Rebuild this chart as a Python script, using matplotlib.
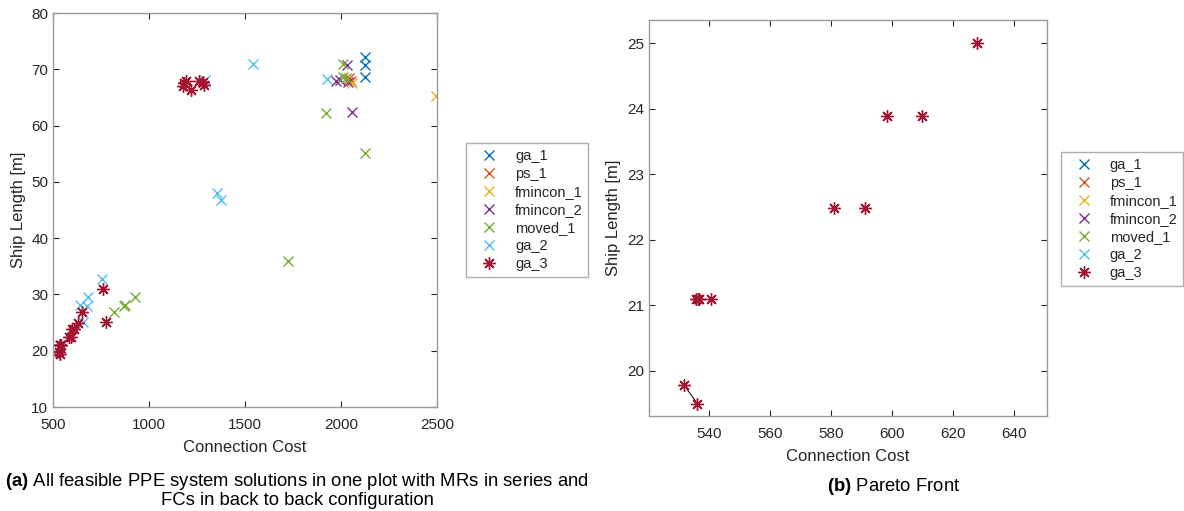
import numpy as np
import matplotlib
matplotlib.use('Agg')
import matplotlib.pyplot as plt

plt.rcParams['font.family'] = ['Liberation Sans', 'DejaVu Sans']
plt.rcParams['mathtext.fontset'] = 'custom'
plt.rcParams['mathtext.rm'] = 'Liberation Sans'
plt.rcParams['mathtext.bf'] = 'Liberation Sans:bold'

# data: (connection cost, ship length)
ga_1_x = [2127, 2127, 2127]
ga_1_y = [72.1, 70.8, 68.6]

ps_1_x = [2043, 2050]
ps_1_y = [68.4, 67.9]

fmincon_1_x = [2056, 2495]
fmincon_1_y = [67.5, 65.2]

fmincon_2_x = [2029, 1974, 1995, 2038, 2057]
fmincon_2_y = [70.8, 67.9, 68.1, 67.7, 62.5]

moved_1_x = [2012, 2012, 2026, 1922, 2123, 1722, 927, 871, 876, 819]
moved_1_y = [71.0, 68.7, 68.4, 62.2, 55.2, 35.9, 29.5, 28.0, 28.1, 26.8]

ga_2_x = [1540, 1925, 1293, 1352, 1373, 754, 684, 641, 679, 658]
ga_2_y = [71.0, 68.2, 68.1, 48.0, 46.7, 32.7, 29.5, 28.1, 28.0, 25.1]

ga_3_x = [1175, 1183, 1191, 1219, 1260, 1280, 1288,
          762, 776, 653,
          627.8, 598.3, 609.8, 581.0, 591.2,
          535.8, 536.3, 536.8, 540.8, 531.7, 536.2]
ga_3_y = [67.0, 67.5, 67.9, 66.4, 68.0, 67.7, 67.3,
          31.0, 25.1, 26.8,
          25.0, 23.89, 23.89, 22.49, 22.49,
          21.1, 21.1, 21.1, 21.1, 19.79, 19.50]

# segment drawn on the pareto plot
link_x = [531.7, 536.2]
link_y = [19.79, 19.50]

series = [
    ('ga_1', ga_1_x, ga_1_y, '#0072BD', 'x'),
    ('ps_1', ps_1_x, ps_1_y, '#D95319', 'x'),
    ('fmincon_1', fmincon_1_x, fmincon_1_y, '#EDB120', 'x'),
    ('fmincon_2', fmincon_2_x, fmincon_2_y, '#7E2F8E', 'x'),
    ('moved_1', moved_1_x, moved_1_y, '#77AC30', 'x'),
    ('ga_2', ga_2_x, ga_2_y, '#4DBEEE', 'x'),
    ('ga_3', ga_3_x, ga_3_y, '#A2142F', (8, 2, 0)),
]

grey = '#9a9a9a'
txt = '#262626'

fig = plt.figure(figsize=(11.84, 5.11), dpi=100)
ax1 = fig.add_axes([0.0448, 0.2035, 0.3243, 0.771])
ax2 = fig.add_axes([0.548, 0.186, 0.336, 0.775])


def draw(ax):
    for name, xs, ys, c, m in series:
        ms = 7 if m == 'x' else 9
        ax.plot(xs, ys, linestyle='none', marker=m, color=c, markersize=ms,
                markeredgewidth=1.0, label=name)
    for sp in ax.spines.values():
        sp.set_color(grey)
        sp.set_linewidth(1.0)
    ax.tick_params(direction='in', top=True, right=True, color=txt,
                   labelcolor=txt, labelsize=11, length=4, width=0.8)
    ax.tick_params(axis='x', pad=8)
    ax.set_xlabel('Connection Cost', fontsize=12, color=txt, labelpad=6)
    ax.set_ylabel('Ship Length [m]', fontsize=12, color=txt, labelpad=4)


draw(ax1)
ax1.set_xlim(500, 2500)
ax1.set_ylim(10, 80)
ax1.set_xticks([500, 1000, 1500, 2000, 2500])
ax1.set_yticks(np.arange(10, 81, 10))

draw(ax2)
ax2.plot(link_x, link_y, color='k', linewidth=0.7, zorder=1)
ax2.set_xlim(520.3, 650.8)
ax2.set_ylim(19.31, 25.36)
ax2.set_xticks([540, 560, 580, 600, 620, 640])
ax2.set_yticks([20, 21, 22, 23, 24, 25])

for ax, anchor in [(ax1, (0.3936, 0.7202)), (ax2, (0.8961, 0.7025))]:
    leg = ax.legend(loc='upper left', bbox_to_anchor=anchor,
                    bbox_transform=fig.transFigure, fontsize=10.5,
                    frameon=True, fancybox=False, borderpad=0.4,
                    labelspacing=0.28, handlelength=2.4, handletextpad=0.55,
                    borderaxespad=0)
    leg.get_frame().set_edgecolor(grey)
    leg.get_frame().set_linewidth(1.0)
    for t in leg.get_texts():
        t.set_color(txt)

fig.text(0.251, 0.0587, r'$\bf{(a)}$ All feasible PPE system solutions in one plot with MRs in series and',
         ha='center', va='center', fontsize=13.3, color='k')
fig.text(0.251, 0.0205, 'FCs in back to back configuration',
         ha='center', va='center', fontsize=13.3, color='k')
fig.text(0.755, 0.047, r'$\bf{(b)}$ Pareto Front',
         ha='center', va='center', fontsize=13.3, color='k')

fig.savefig('out.png', dpi=100)
